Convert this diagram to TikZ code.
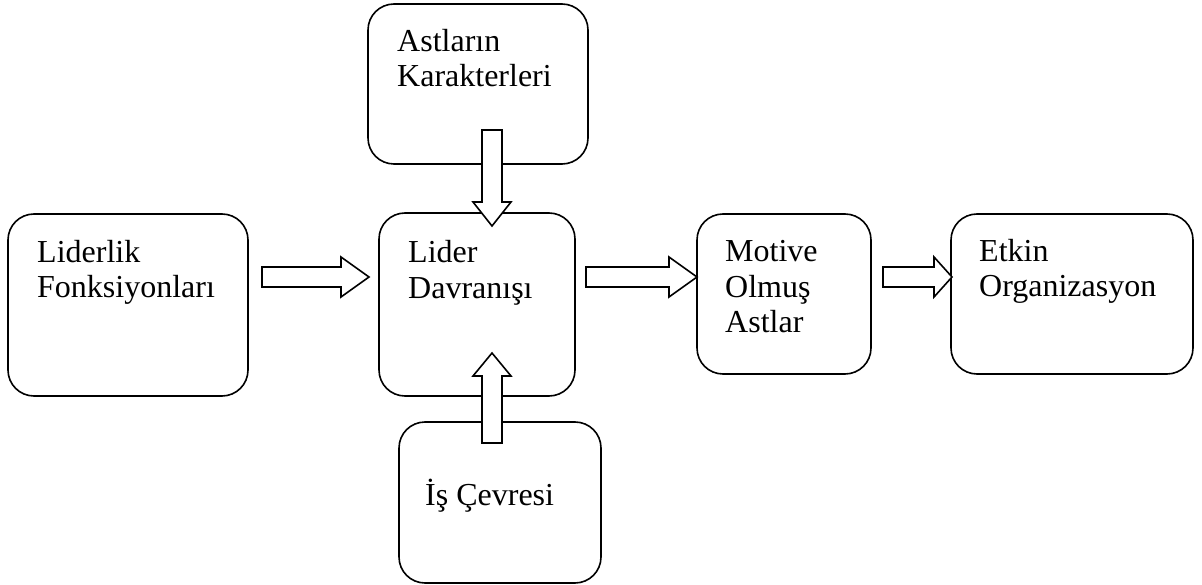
\documentclass[tikz,border=0pt]{standalone}
\usepackage{fontspec}
\setmainfont{Liberation Serif}
\begin{document}
\begin{tikzpicture}[x=1pt,y=-1pt,
  box/.style={draw, line width=1.6pt, rounded corners=26pt, inner sep=0pt},
  lbl/.style={inner sep=0pt, anchor=base west, align=left,
              font=\fontsize{32}{36}\selectfont},
  blockarrow/.style={draw, fill=white, line width=1.6pt, line join=miter}]
\useasboundingbox (0,0) rectangle (1202,585);

% boxes
\node[box, minimum width=220pt, minimum height=160pt] (kar) at (478,84) {};
\node[box, minimum width=240pt, minimum height=182pt] (fon) at (128,305) {};
\node[box, minimum width=196pt, minimum height=183pt] (dav) at (477,304.5) {};
\node[box, minimum width=174pt, minimum height=160pt] (mot) at (784,294) {};
\node[box, minimum width=242pt, minimum height=160pt] (etk) at (1072,294) {};
\node[box, minimum width=202pt, minimum height=161pt] (cev) at (500,502.5) {};

% labels
\node[lbl] (tkar1) at (397,52) {Astların};
\node[lbl] (tkar2) at (397,87) {Karakterleri};
\node[lbl] (tfon1) at (37,263) {Liderlik};
\node[lbl] (tfon2) at (37,298) {Fonksiyonları};
\node[lbl] (tdav1) at (408,263) {Lider};
\node[lbl] (tdav2) at (408,299) {Davranışı};
\node[lbl] (tmot1) at (725,262) {Motive};
\node[lbl] (tmot2) at (725,298) {Olmuş};
\node[lbl] (tmot3) at (725,333) {Astlar};
\node[lbl] (tetk1) at (979,262) {Etkin};
\node[lbl] (tetk2) at (979,297) {Organizasyon};
\node[lbl] (tcev) at (425,505) {İş Çevresi};

% block arrows
\draw[blockarrow] (262,267) -- (341,267) -- (341,257) -- (369,277)
  -- (341,297) -- (341,287) -- (262,287) -- cycle;
\draw[blockarrow] (586,267) -- (669,267) -- (669,257) -- (697,277)
  -- (669,297) -- (669,287) -- (586,287) -- cycle;
\draw[blockarrow] (883,267) -- (934,267) -- (934,257) -- (952,277)
  -- (934,297) -- (934,287) -- (883,287) -- cycle;
\draw[blockarrow] (482,130) -- (502,130) -- (502,202) -- (511,202)
  -- (492,226) -- (473,202) -- (482,202) -- cycle;
\draw[blockarrow] (482,443) -- (502,443) -- (502,376) -- (511,376)
  -- (492,353) -- (473,376) -- (482,376) -- cycle;
\end{tikzpicture}
\end{document}
